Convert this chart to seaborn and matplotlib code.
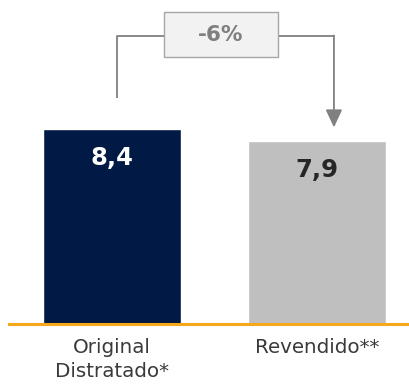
import matplotlib
matplotlib.use("Agg")
import matplotlib.pyplot as plt
import seaborn as sns
import pandas as pd
from matplotlib.patches import Rectangle

categories = ["Original\nDistratado*", "Revendido**"]
values = [8.4, 7.9]
value_labels = ["8,4", "7,9"]
change_label = "-6%"
bar_colors = ["#001a45", "#bfbfbf"]
label_colors = ["white", "#262626"]

sns.set_theme(style="white")
plt.rcParams["font.family"] = ["DejaVu Sans"]

fig = plt.figure(figsize=(4.10, 3.84), dpi=100)
ax = fig.add_axes([9/410, 1 - 324/384, 401/410, 324/384])

df = pd.DataFrame({"cat": categories, "val": values})
sns.barplot(data=df, x="cat", y="val", hue="cat", palette=bar_colors,
            width=0.673, legend=False, ax=ax, saturation=1)

ax.set_xlim(-0.502, 1.454)
ax.set_ylim(0, 13.96)
ax.set_xlabel("")
ax.set_ylabel("")
ax.set_yticks([])
for s in ["top", "right", "left"]:
    ax.spines[s].set_visible(False)
ax.spines["bottom"].set_color("#f5a81c")
ax.spines["bottom"].set_linewidth(2.2)
ax.tick_params(axis="x", length=0, pad=10, labelsize=14.3, labelcolor="#3a3a3a")
for t in ax.get_xticklabels():
    t.set_linespacing(1.35)

for i, (v, lab) in enumerate(zip(values, value_labels)):
    ax.text(i, v - 1.25, lab, ha="center", va="center", fontsize=17.5,
            fontweight="bold", color=label_colors[i])

# bracket
gray = "#808080"
y_top = max(values) + 4.0
x_left = 0.024
x_right = 1.083
box_cx, box_w, box_h = 0.532, 0.556, 1.94
ax.plot([x_left, x_left, box_cx - box_w / 2], [values[0] + 1.34, y_top, y_top],
        color=gray, lw=1.3, solid_capstyle="butt")
ax.plot([box_cx + box_w / 2, x_right], [y_top, y_top], color=gray, lw=1.3)
ax.annotate("", xy=(x_right, values[1] + 0.57), xytext=(x_right, y_top + 0.03),
            arrowprops=dict(arrowstyle="-|>,head_length=0.9,head_width=0.42",
                            color=gray, lw=1.3, shrinkA=0, shrinkB=0))
ax.add_patch(Rectangle((box_cx - box_w / 2, y_top + 0.07 - box_h / 2), box_w, box_h,
                       fc="#f2f2f2", ec="#a6a6a6", lw=1.0, zorder=3))
ax.text(box_cx, y_top + 0.07, change_label, ha="center", va="center", fontsize=15.5,
        fontweight="bold", color="#7f7f7f", zorder=4)
fig.savefig("out.png", dpi=100)
